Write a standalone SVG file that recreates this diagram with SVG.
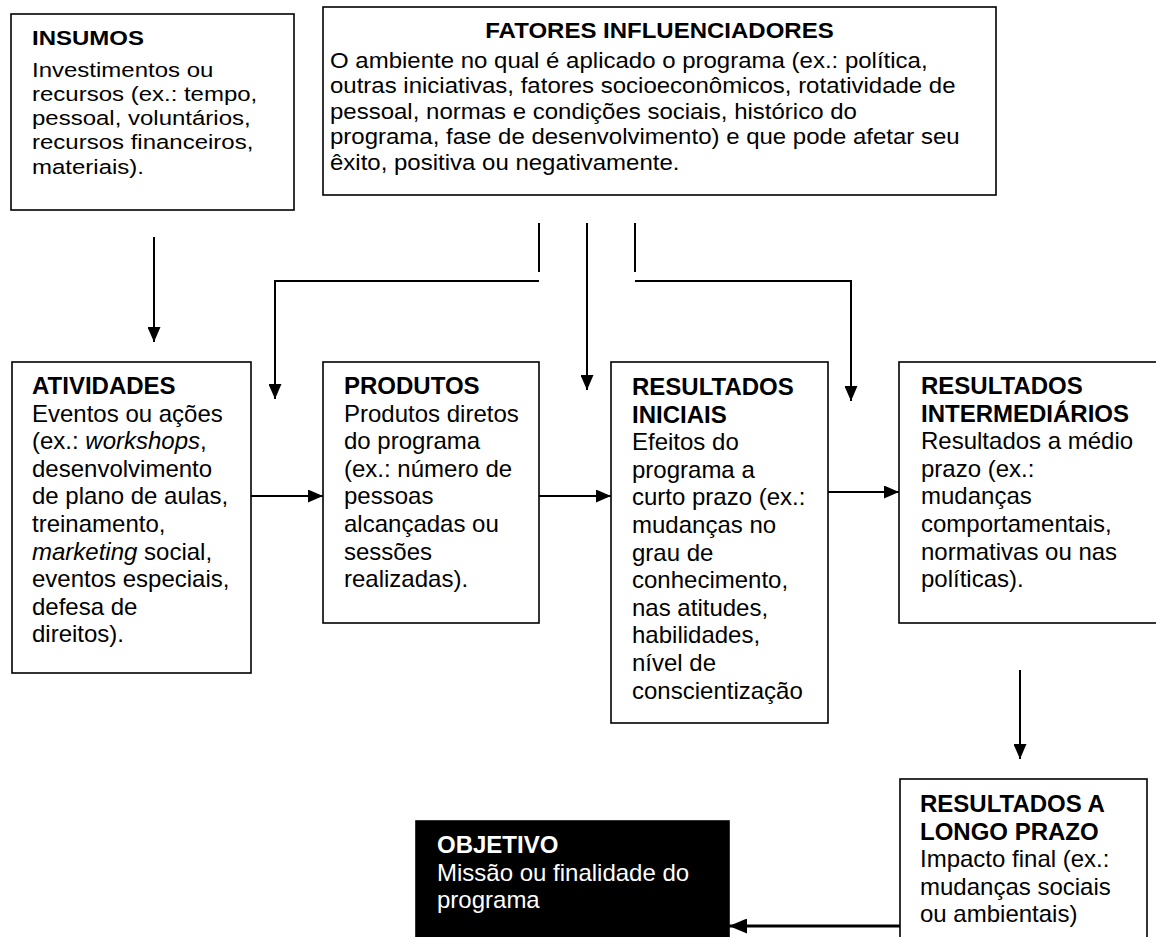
<svg xmlns="http://www.w3.org/2000/svg" width="1156" height="937" viewBox="0 0 1156 937">
<style>
.box{fill:#fff;stroke:#000;stroke-width:1.6}
.dark{fill:#000;stroke:#000;stroke-width:1.6}
.t{font-family:"Liberation Sans",Arial,sans-serif;font-size:24px;fill:#000}
.w{fill:#fff}
.b{font-weight:bold}
.i{font-style:italic}
.conn{stroke:#000;stroke-width:2;fill:none}
.thick{stroke-width:3.2}
</style>
<defs>
<marker id="ah" markerUnits="userSpaceOnUse" markerWidth="15" markerHeight="13" refX="15" refY="6.5" orient="auto">
<path d="M0,0 L15,6.5 L0,13 z" fill="#000"/>
</marker>
<marker id="ahb" markerUnits="userSpaceOnUse" markerWidth="18" markerHeight="15" refX="18" refY="7.5" orient="auto">
<path d="M0,0 L18,7.5 L0,15 z" fill="#000"/>
</marker>
</defs>

<g id="connectors">
<line class="conn" x1="154" y1="237" x2="154" y2="342" marker-end="url(#ah)"/>
<line class="conn" x1="539" y1="223" x2="539" y2="272"/>
<polyline class="conn" points="539,281 275,281 275,399" marker-end="url(#ah)"/>
<line class="conn" x1="587" y1="223" x2="587" y2="390" marker-end="url(#ah)"/>
<line class="conn" x1="635" y1="223" x2="635" y2="272"/>
<polyline class="conn" points="635,281 851,281 851,401" marker-end="url(#ah)"/>
<line class="conn" x1="251" y1="496" x2="323" y2="496" marker-end="url(#ah)"/>
<line class="conn" x1="539" y1="496" x2="611" y2="496" marker-end="url(#ah)"/>
<line class="conn" x1="828" y1="492" x2="899" y2="492" marker-end="url(#ah)"/>
<line class="conn" x1="1020" y1="670" x2="1020" y2="759" marker-end="url(#ah)"/>
<line class="conn thick" x1="900" y1="926" x2="729" y2="926" marker-end="url(#ahb)"/>
</g>

<g id="insumos">
<rect class="box" x="11" y="14" width="283" height="196"/>
<g transform="translate(0,45) scale(1,0.88)">
<text class="t" x="32" y="0"><tspan class="b">INSUMOS</tspan>
<tspan x="32" y="35.8">Investimentos ou</tspan>
<tspan x="32" dy="27.6">recursos (ex.: tempo,</tspan>
<tspan x="32" dy="27.6">pessoal, voluntários,</tspan>
<tspan x="32" dy="27.6">recursos financeiros,</tspan>
<tspan x="32" dy="27.6">materiais).</tspan></text>
</g>
</g>

<g id="fatores">
<rect class="box" x="323" y="7" width="673" height="188"/>
<g transform="translate(0,38) scale(1,0.9)">
<text class="t b" x="659.5" y="0" text-anchor="middle">FATORES INFLUENCIADORES</text>
<text class="t" x="330" y="33.3">O ambiente no qual é aplicado o programa (ex.: política,
<tspan x="330" dy="28.3">outras iniciativas, fatores socioeconômicos, rotatividade de</tspan>
<tspan x="330" dy="28.3">pessoal, normas e condições sociais, histórico do</tspan>
<tspan x="330" dy="28.3">programa, fase de desenvolvimento) e que pode afetar seu</tspan>
<tspan x="330" dy="28.3">êxito, positiva ou negativamente.</tspan></text>
</g>
</g>

<g id="atividades">
<rect class="box" x="12" y="362" width="239" height="311"/>
<text class="t" x="32" y="394"><tspan class="b">ATIVIDADES</tspan>
<tspan x="32" dy="27.6">Eventos ou ações</tspan>
<tspan x="32" dy="27.6">(ex.: <tspan class="i">workshops</tspan>,</tspan>
<tspan x="32" dy="27.6">desenvolvimento</tspan>
<tspan x="32" dy="27.6">de plano de aulas,</tspan>
<tspan x="32" dy="27.6">treinamento,</tspan>
<tspan x="32" dy="27.6"><tspan class="i">marketing</tspan> social,</tspan>
<tspan x="32" dy="27.6">eventos especiais,</tspan>
<tspan x="32" dy="27.6">defesa de</tspan>
<tspan x="32" dy="27.6">direitos).</tspan></text>
</g>

<g id="produtos">
<rect class="box" x="323" y="362" width="216" height="261"/>
<text class="t" x="344" y="394"><tspan class="b">PRODUTOS</tspan>
<tspan x="344" dy="27.6">Produtos diretos</tspan>
<tspan x="344" dy="27.6">do programa</tspan>
<tspan x="344" dy="27.6">(ex.: número de</tspan>
<tspan x="344" dy="27.6">pessoas</tspan>
<tspan x="344" dy="27.6">alcançadas ou</tspan>
<tspan x="344" dy="27.6">sessões</tspan>
<tspan x="344" dy="27.6">realizadas).</tspan></text>
</g>

<g id="resultados-iniciais">
<rect class="box" x="611" y="362" width="217" height="361"/>
<text class="t" x="632" y="395"><tspan class="b">RESULTADOS</tspan>
<tspan x="632" dy="27.6" class="b">INICIAIS</tspan>
<tspan x="632" dy="27.6">Efeitos do</tspan>
<tspan x="632" dy="27.6">programa a</tspan>
<tspan x="632" dy="27.6">curto prazo (ex.:</tspan>
<tspan x="632" dy="27.6">mudanças no</tspan>
<tspan x="632" dy="27.6">grau de</tspan>
<tspan x="632" dy="27.6">conhecimento,</tspan>
<tspan x="632" dy="27.6">nas atitudes,</tspan>
<tspan x="632" dy="27.6">habilidades,</tspan>
<tspan x="632" dy="27.6">nível de</tspan>
<tspan x="632" dy="27.6">conscientização</tspan></text>
</g>

<g id="resultados-intermediarios">
<rect class="box" x="899" y="362" width="270" height="261"/>
<text class="t" x="921" y="394"><tspan class="b">RESULTADOS</tspan>
<tspan x="921" dy="27.6" class="b">INTERMEDIÁRIOS</tspan>
<tspan x="921" dy="27.6">Resultados a médio</tspan>
<tspan x="921" dy="27.6">prazo (ex.:</tspan>
<tspan x="921" dy="27.6">mudanças</tspan>
<tspan x="921" dy="27.6">comportamentais,</tspan>
<tspan x="921" dy="27.6">normativas ou nas</tspan>
<tspan x="921" dy="27.6">políticas).</tspan></text>
</g>

<g id="resultados-longo-prazo">
<rect class="box" x="900" y="779" width="247" height="170"/>
<text class="t" x="920" y="812"><tspan class="b">RESULTADOS A</tspan>
<tspan x="920" dy="27.5" class="b">LONGO PRAZO</tspan>
<tspan x="920" dy="27.5">Impacto final (ex.:</tspan>
<tspan x="920" dy="27.5">mudanças sociais</tspan>
<tspan x="920" dy="27.5">ou ambientais)</tspan></text>
</g>

<g id="objetivo">
<rect class="dark" x="416" y="821" width="313" height="130"/>
<text class="t w" x="437" y="853"><tspan class="b">OBJETIVO</tspan>
<tspan x="437" dy="27.6">Missão ou finalidade do</tspan>
<tspan x="437" dy="27.6">programa</tspan></text>
</g>
</svg>
